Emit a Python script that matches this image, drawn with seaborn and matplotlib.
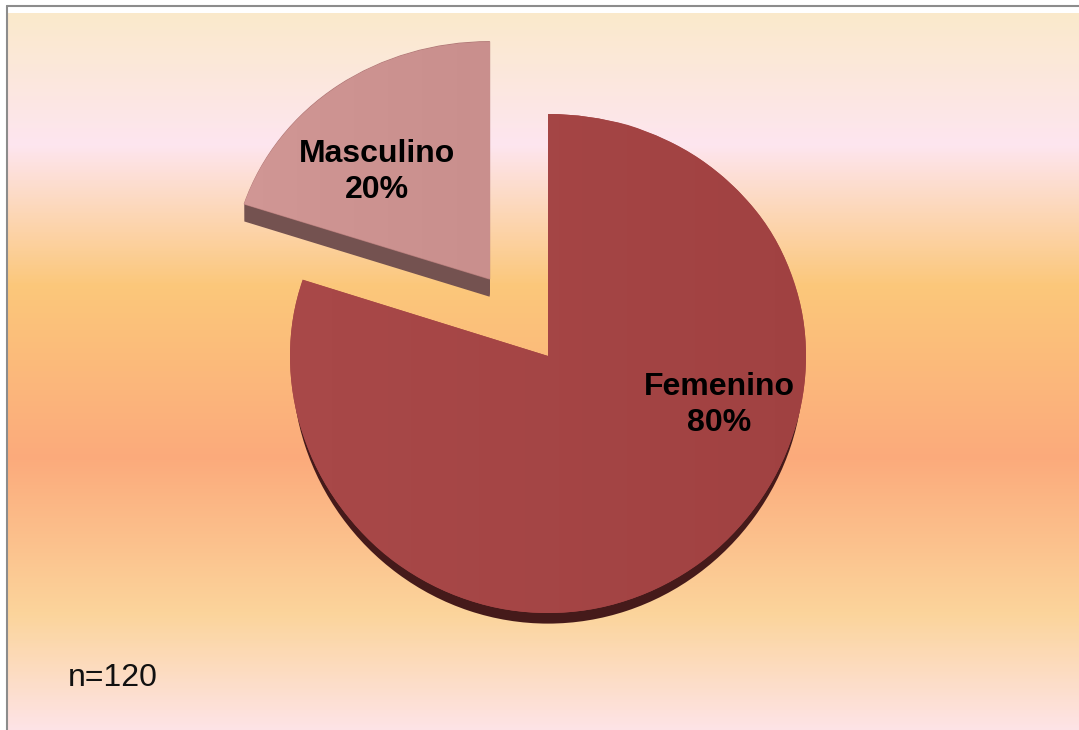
import numpy as np
import matplotlib
matplotlib.use("Agg")
import matplotlib.pyplot as plt
from matplotlib.colors import LinearSegmentedColormap
import seaborn as sns

# Data
sexo = ["Femenino", "Masculino"]
porcentaje = [80, 20]
n_total = 120

# Colours
top_colors = ["#A84848", "#D09694"]
top_colors_right = ["#A04141", "#C88E8C"]
side_colors = ["#451A1A", "#745250"]
bg_stops = [(0.0, "#FAE9CB"), (0.183, "#FDE5EF"), (0.38, "#FBC77A"),
            (0.62, "#FBAA7B"), (0.84, "#FBD49B"), (1.0, "#FDE3E6")]

W, H = 1079, 730
sns.set_theme(style="white")
plt.rcParams["font.family"] = ["Liberation Sans", "DejaVu Sans"]

fig = plt.figure(figsize=(W / 100, H / 100), dpi=100, facecolor="white")

# Background bands
bg_ax = fig.add_axes([8 / W, 0, 1 - 8 / W, 717 / H])
bg_cmap = LinearSegmentedColormap.from_list("bandas", bg_stops, N=512)
sns.heatmap(np.linspace(0, 1, 717).reshape(-1, 1), cmap=bg_cmap, vmin=0, vmax=1,
            cbar=False, xticklabels=False, yticklabels=False, ax=bg_ax)

# Pie axes, slight perspective: upper half shorter than the lower one
C = 0.03
RX, RY = 258, 249.5
CX, CY = 548, 356


def persp(y):
    return y - C * y * y


def persp_inv(v):
    return (1 - np.sqrt(np.maximum(1 - 4 * C * v, 0))) / (2 * C)


ax = fig.add_axes([0, 0, 1, 1], zorder=2)
ax.patch.set_alpha(0)
explode = [0, 0.385]
pie_args = dict(x=porcentaje, explode=explode, startangle=90, counterclock=False)

# Side walls: a stack for the loose slice, one smaller disc under the big one
for k in range(18, 0, -1):
    ax.pie(colors=["none", side_colors[1]], center=(0, -k / RY), wedgeprops=dict(linewidth=0), **pie_args)
ax.pie(colors=[side_colors[0], "none"], center=(0, -12.5 / RY), radius=0.99, wedgeprops=dict(linewidth=0), **pie_args)

wedges, _ = ax.pie(colors=top_colors, wedgeprops=dict(linewidth=0), **pie_args)

ax.set_aspect("auto")
ax.set_yscale("function", functions=(persp, persp_inv))
ax.set_xlim(-CX / RX, (W - CX) / RX)
ax.set_ylim(persp_inv(-(H - CY) / RY), persp_inv(CY / RY))
ax.set_axis_off()

# Faint left-to-right shading on the top faces
xg = np.linspace(-1.5, 1.1, 60)
yg = np.array([-1.2, 1.5])
for i, w in enumerate(wedges):
    cmap = sns.blend_palette([top_colors[i], top_colors_right[i]], as_cmap=True)
    span = (-1, 1) if i == 0 else (-1.2, -0.2)
    vals = np.clip((xg[:-1] - span[0]) / (span[1] - span[0]), 0, 1).reshape(1, -1)
    mesh = ax.pcolormesh(xg, yg, vals, cmap=cmap, vmin=0, vmax=1, zorder=1.5)
    mesh.set_clip_path(w)
wedges[1].set_edgecolor("#B27A78")
wedges[1].set_linewidth(0.8)

# Labels
label_pos = [(719, 405), (377, 172)]
for name, pct, (px, py) in zip(sexo, porcentaje, label_pos):
    fig.text(px / W, 1 - py / H, f"{name}\n{pct}%", ha="center", va="center",
             fontsize=23, fontweight="bold", color="black", linespacing=1.24, zorder=5)
fig.text(68 / W, 1 - 678 / H, f"n={n_total}", ha="left", va="center", fontsize=23, color="#111111", zorder=5)

# Frame, top and left only
fig.add_artist(plt.Line2D([6.5 / W, 1], [1 - 6 / H, 1 - 6 / H], color="#8C8C8C", lw=1.5))
fig.add_artist(plt.Line2D([7 / W, 7 / W], [0, 1 - 5.5 / H], color="#8C8C8C", lw=1.5))

fig.savefig("out.png", dpi=100)
